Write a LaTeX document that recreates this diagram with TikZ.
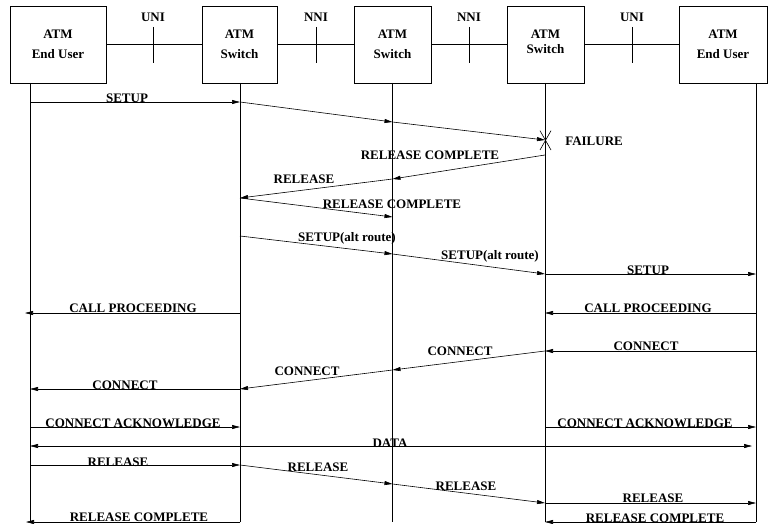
\documentclass[tikz,border=0pt]{standalone}
\usepackage{fontspec}
\setmainfont{Liberation Serif}
\usetikzlibrary{arrows.meta}
\begin{document}
\begin{tikzpicture}[x=1pt,y=-1pt,line width=0.6pt,
  lbl/.style={font=\fontsize{13}{15}\selectfont\bfseries,inner sep=0pt,anchor=base},
  ent/.style={draw,font=\fontsize{13}{15}\selectfont\bfseries,align=center,inner sep=0pt,minimum height=77pt},
  msg/.style={-{Triangle[length=8pt,width=4pt]}},
  dmsg/.style={{Triangle[length=8pt,width=4pt]}-{Triangle[length=8pt,width=4pt]}}]
\useasboundingbox (0,0) rectangle (768,524);
% entities
\node[ent,minimum width=96pt] (b1) at (58,44.5) {ATM\\[5pt]End User};
\node[ent,minimum width=75pt] (b2) at (239.5,44.5) {ATM\\[5pt]Switch};
\node[ent,minimum width=77pt] (b3) at (392.5,44.5) {ATM\\[5pt]Switch};
\node[ent,minimum width=77pt,text depth=5pt] (b4) at (545.5,44.5) {ATM\\Switch};
\node[ent,minimum width=88pt] (b5) at (723,44.5) {ATM\\[5pt]End User};
\draw (b1) -- (b2);
\draw (b2) -- (b3);
\draw (b3) -- (b4);
\draw (b4) -- (b5);
% interfaces
\node[lbl] (i1) at (153,21.3) {UNI};
\node[lbl] (i2) at (316,21.3) {NNI};
\node[lbl] (i3) at (469,21.3) {NNI};
\node[lbl] (i4) at (632,21.3) {UNI};
\draw (153,27) -- (153,63);
\draw (316,27) -- (316,63);
\draw (469,27) -- (469,63);
\draw (632,27) -- (632,63);
% lifeline coordinates
\foreach \n/\x in {a/30,b/240,c/392.5,d/545,e/756}{
  \foreach \y in {83,102,122,140,155,179,198,217,236,254,274,313,351,370,389,427,446,465,484,503,522}{
    \coordinate (\n\y) at (\x,\y);
  }
}
\draw (a83) -- (a522);
\draw (b83) -- (b522);
\draw (c83) -- (c522);
\draw (d83) -- (d522);
\draw (e83) -- (e522);
% messages
\draw[msg] (a102) -- (b102);
\draw[msg] (b102) -- (c122);
\draw[msg] (c122) -- (d140);
\draw (540,130.7) -- (551,150) (551,130.7) -- (540,150);
\node[lbl,anchor=base west] (fail) at (565,146) {FAILURE};
\draw[msg] (d155) -- (c179);
\draw[msg] (c179) -- (b198);
\draw[msg] (b198) -- (c217);
\draw[msg] (b236) -- (c254);
\draw[msg] (c254) -- (d274);
\draw[msg] (d274) -- (e274);
\draw[msg] (e313) -- (d313);
\draw[msg,shorten >=-5pt] (b313) -- (a313);
\draw[msg] (e351) -- (d351);
\draw[msg] (d351) -- (c370);
\draw[msg] (c370) -- (b389);
\draw[msg] (b389) -- (a389);
\draw[msg] (a427) -- (b427);
\draw[msg] (d427) -- (e427);
\draw[dmsg,shorten >=4pt] (a446) -- (e446);
\draw[msg] (a465) -- (b465);
\draw[msg] (b465) -- (c484);
\draw[msg] (c484) -- (d503);
\draw[msg] (d503) -- (e503);
\draw[msg] (e522) -- (d522);
\draw[msg,shorten >=-4pt] (b522) -- (a522);
% labels
\node[lbl] (l1) at (127,102.3) {SETUP};
\node[lbl] (l2) at (430,160) {RELEASE COMPLETE};
\node[lbl] (l3) at (304,183.3) {RELEASE};
\node[lbl] (l4) at (392,208) {RELEASE COMPLETE};
\node[lbl] (l5) at (347,241) {SETUP(alt route)};
\node[lbl] (l6) at (490,259.3) {SETUP(alt route)};
\node[lbl] (l7) at (648,274.3) {SETUP};
\node[lbl] (l8) at (648,312.3) {CALL PROCEEDING};
\node[lbl] (l9) at (133,312.3) {CALL PROCEEDING};
\node[lbl] (l10) at (646,350.3) {CONNECT};
\node[lbl] (l11) at (460,355.3) {CONNECT};
\node[lbl] (l12) at (307,375) {CONNECT};
\node[lbl] (l13) at (125,389.3) {CONNECT};
\node[lbl] (l14) at (133,427.3) {CONNECT ACKNOWLEDGE};
\node[lbl] (l15) at (645,427.3) {CONNECT ACKNOWLEDGE};
\node[lbl] (l16) at (390,447) {DATA};
\node[lbl] (l17) at (118,466) {RELEASE};
\node[lbl] (l18) at (318,471) {RELEASE};
\node[lbl] (l19) at (466,490) {RELEASE};
\node[lbl] (l20) at (653,502.3) {RELEASE};
\node[lbl] (l21) at (655,522) {RELEASE COMPLETE};
\node[lbl] (l22) at (139,521.3) {RELEASE COMPLETE};
\end{tikzpicture}
\end{document}
